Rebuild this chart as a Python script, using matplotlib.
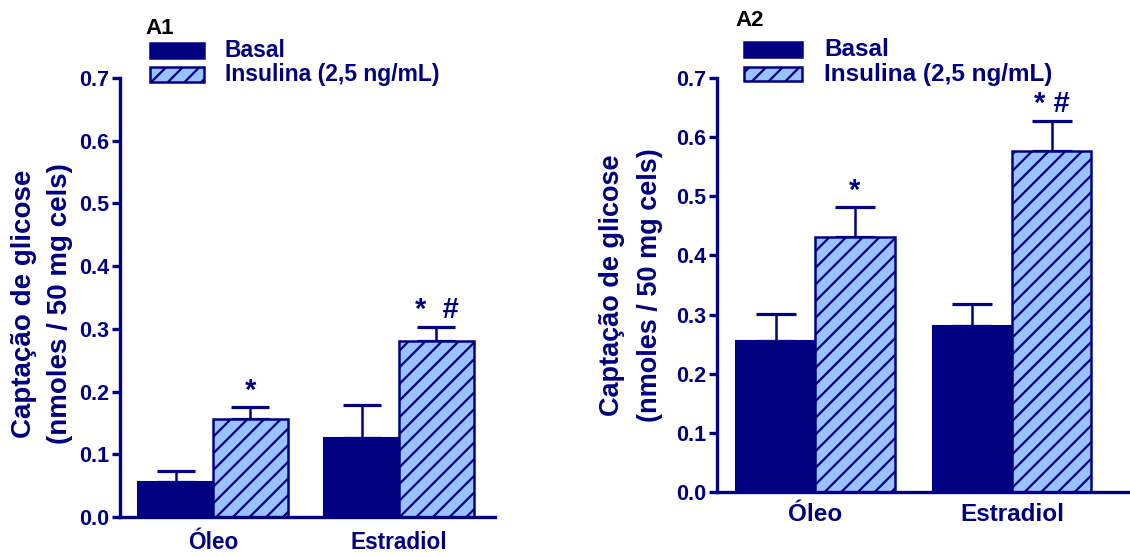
import numpy as np
import matplotlib
matplotlib.use("Agg")
import matplotlib.pyplot as plt
from matplotlib.patches import Rectangle

# data
groups = ["Óleo", "Estradiol"]
a1_basal = [0.056, 0.126]
a1_basal_err = [0.017, 0.053]
a1_insul = [0.156, 0.281]
a1_insul_err = [0.019, 0.022]
a2_basal = [0.255, 0.281]
a2_basal_err = [0.046, 0.037]
a2_insul = [0.432, 0.577]
a2_insul_err = [0.050, 0.051]
a1_marks = ["*", "*  #"]
a2_marks = ["*", "* #"]
legend_labels = ["Basal", "Insulina (2,5 ng/mL)"]

navy = "#000080"
light = "#99C2FF"

plt.rcParams["font.family"] = ["Liberation Sans", "DejaVu Sans"]
plt.rcParams["font.weight"] = "bold"
plt.rcParams["hatch.color"] = navy
plt.rcParams["hatch.linewidth"] = 1.6

fig = plt.figure(figsize=(11.3, 5.57), dpi=100)
W, H = 1130.0, 557.0


def fx(px):
    return px / W


def fy(py):
    return 1 - py / H


def panel(rect, basal, berr, insul, ierr, marks, xmax, cap, fs, xpad):
    l, t, r, b = rect
    ax = fig.add_axes([fx(l), fy(b), (r - l) / W, (b - t) / H])
    x = np.arange(len(groups))
    w = 0.403
    ax.bar(x - w / 2, basal, w, color=navy, edgecolor=navy, linewidth=1.5, zorder=2)
    ax.bar(x + w / 2, insul, w, color=light, edgecolor=navy, linewidth=1.8,
           hatch="//", zorder=2)
    ax.errorbar(x - w / 2, basal, yerr=[np.zeros(2), berr], fmt="none",
                ecolor=navy, elinewidth=1.8, capsize=cap, capthick=2.3, zorder=1)
    ax.errorbar(x + w / 2, insul, yerr=[np.zeros(2), ierr], fmt="none",
                ecolor=navy, elinewidth=1.8, capsize=cap, capthick=2.3, zorder=1)
    for xi, yi, ei, m in zip(x + w / 2, insul, ierr, marks):
        ax.text(xi, yi + ei + 0.004, m, ha="center", va="bottom",
                fontsize=21, color=navy, fontweight="bold")
    ax.set_xlim(-0.5, xmax)
    ax.set_ylim(0, 0.7)
    ticks = np.arange(0, 0.71, 0.1)
    ax.set_yticks(ticks)
    ax.set_yticklabels(["%.1f" % v for v in ticks])
    ax.set_xticks(x)
    ax.set_xticklabels(groups)
    for s in ["top", "right"]:
        ax.spines[s].set_visible(False)
    for s in ["left", "bottom"]:
        ax.spines[s].set_color(navy)
        ax.spines[s].set_linewidth(2.4)
    ax.tick_params(axis="y", colors=navy, width=2.4, length=6, labelsize=fs[0],
                   direction="out", pad=1.5)
    ax.tick_params(axis="x", length=0, colors=navy, labelsize=fs[1], pad=xpad)
    for lb in ax.get_xticklabels() + ax.get_yticklabels():
        lb.set_fontweight("bold")
    return ax


def ylabel(xc, yc, gap, size):
    fig.text(fx(xc - gap / 2), fy(yc), "Captação de glicose", rotation=90,
             ha="center", va="center", fontsize=size, fontweight="bold", color=navy)
    fig.text(fx(xc + gap / 2), fy(yc), "(nmoles / 50 mg cels)", rotation=90,
             ha="center", va="center", fontsize=size, fontweight="bold", color=navy)


def legend(name, name_xy, rx, rw, rows, tx, size):
    fig.text(fx(name_xy[0]), fy(name_xy[1]), name, fontsize=16,
             fontweight="bold", color="black", ha="left", va="center")
    styles = [dict(facecolor=navy, edgecolor=navy),
              dict(facecolor=light, edgecolor=navy, hatch="//")]
    for (y0, y1), st, lab in zip(rows, styles, legend_labels):
        fig.add_artist(Rectangle((fx(rx), fy(y1)), rw / W, (y1 - y0) / H,
                                 transform=fig.transFigure, linewidth=1.8, **st))
        fig.text(fx(tx), fy((y0 + y1) / 2), lab, fontsize=size,
                 fontweight="bold", color=navy, ha="left", va="center")


panel((120, 78, 495, 517), a1_basal, a1_basal_err, a1_insul, a1_insul_err,
      a1_marks, 1.516, 13.7, (15.5, 16.3), 10)
panel((717, 78, 1130, 492), a2_basal, a2_basal_err, a2_insul, a2_insul_err,
      a2_marks, 1.60, 14.7, (15.5, 17.5), 8)

ylabel(42, 304, 36, 20)
ylabel(631, 285, 38, 19.5)

legend("A1", (145, 28), 150, 54, [(43, 58), (67, 82)], 225, 16.5)
legend("A2", (735, 20), 744, 58, [(42, 57), (67, 81)], 824, 17.5)

fig.savefig("out.png", dpi=100)
